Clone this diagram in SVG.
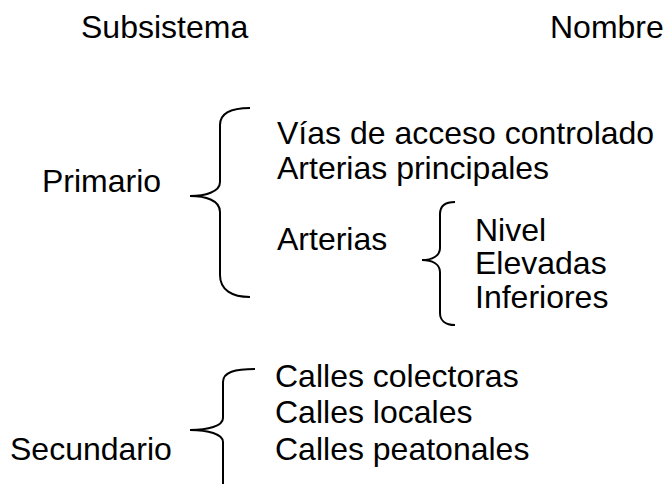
<svg xmlns="http://www.w3.org/2000/svg" width="668" height="484" viewBox="0 0 668 484">
<style>
text{font-family:"Liberation Sans",Arial,sans-serif;font-size:32px;fill:#000}
.br{fill:none;stroke:#000;stroke-width:2}
</style>
<rect width="668" height="484" fill="#fff"/>
<g id="headers">
<text x="81" y="38">Subsistema</text>
<text x="550" y="38">Nombre</text>
</g>
<g id="primario"><text x="42" y="192">Primario</text></g>
<g id="secundario"><text x="10" y="460">Secundario</text></g>
<g id="vias"><text x="277" y="144">Vías de acceso controlado</text></g>
<g id="arterias-principales"><text x="277" y="179">Arterias principales</text></g>
<g id="arterias"><text x="277" y="250">Arterias</text></g>
<g id="nivel"><text x="475" y="241">Nivel</text></g>
<g id="elevadas"><text x="475" y="274">Elevadas</text></g>
<g id="inferiores"><text x="475" y="308">Inferiores</text></g>
<g id="calles-colectoras"><text x="275" y="387">Calles colectoras</text></g>
<g id="calles-locales"><text x="275" y="423">Calles locales</text></g>
<g id="calles-peatonales"><text x="275" y="460">Calles peatonales</text></g>
<g id="connectors">
<path class="br" d="M250,108 C232,108 220,112 220,125 L220,182 C220,192 205,196 190,196 C205,196 220,200 220,212 L220,275 C220,290 232,297 250,297"/>
<path class="br" d="M455,202 C445,202 440,206 440,214 L440,248 C440,256 432,260 422,260 C432,260 440,264 440,272 L440,313 C440,320 445,325 455,325"/>
<path class="br" d="M255,369 C235,369 223,372 223,382 L223,418 C223,426 208,430 190,430 C208,430 223,434 223,442 L223,490"/>
</g>
</svg>
